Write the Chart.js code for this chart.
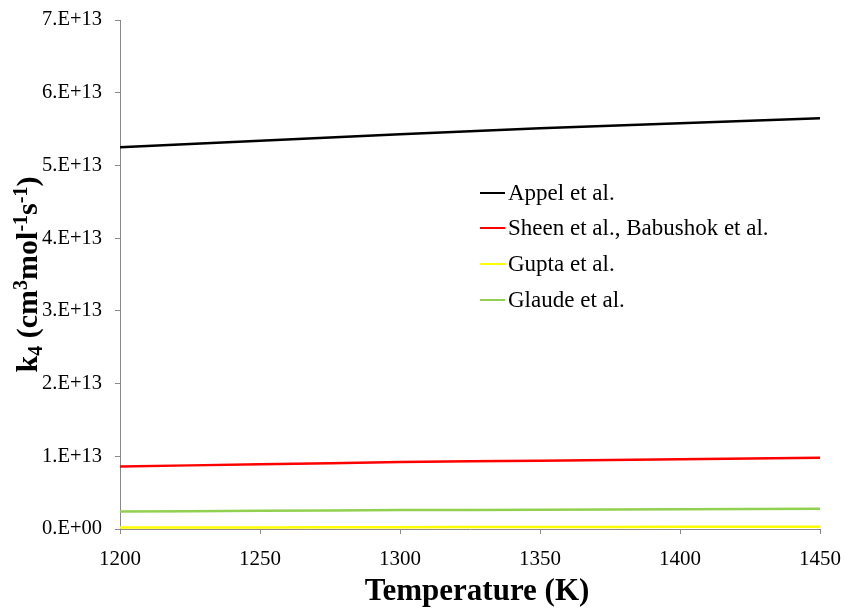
<!DOCTYPE html>
<html lang="en">
<head>
    <meta charset="UTF-8">
    <title>k4 vs Temperature</title>
    <style>
        body {
            margin: 0;
            padding: 0;
            background: #ffffff;
            font-family: 'Liberation Serif', 'Times New Roman', serif;
        }
        #wrap {
            position: relative;
            width: 845px;
            height: 610px;
        }
        #legend {
            position: absolute;
            left: 480px;
            top: 175px;
            font-size: 23px;
            color: #000;
        }
        .item {
            height: 35.6px;
            display: flex;
            align-items: center;
            white-space: nowrap;
        }
        .swatch {
            display: inline-block;
            width: 25px;
            height: 2px;
            margin-right: 3px;
        }
    </style>
</head>
<body>
<div id="wrap">
    <canvas id="chart" width="845" height="610"></canvas>
    <div id="legend"></div>
</div>

<script src="https://cdn.jsdelivr.net/npm/chart.js"></script>
<script>
    // data (cm3 mol-1 s-1)
    const temps = [1200, 1250, 1300, 1350, 1400, 1450];
    const appel = [5.25e13, 5.34e13, 5.43e13, 5.51e13, 5.58e13, 5.65e13];
    const sheen = [0.86e13, 0.89e13, 0.92e13, 0.94e13, 0.96e13, 0.98e13];
    const gupta = [0.02e13, 0.022e13, 0.025e13, 0.027e13, 0.03e13, 0.032e13];
    const glaude = [0.24e13, 0.25e13, 0.26e13, 0.265e13, 0.27e13, 0.28e13];

    const names = ['Appel et al.', 'Sheen et al., Babushok et al.', 'Gupta et al.', 'Glaude et al.'];
    const colors = ['#000000', '#ff0000', '#ffff00', '#92d050'];
    const series = [appel, sheen, gupta, glaude];

    const xTitle = 'Temperature (K)';
    // y title pieces: k4 (cm3 mol-1 s-1) with sub/superscripts
    const yTitleParts = [
        ['k', 'n'], ['4', 'sub'], [' (cm', 'n'], ['3', 'sup'], ['mol', 'n'],
        ['-1', 'sup'], ['s', 'n'], ['-1', 'sup'], [')', 'n']
    ];

    const datasets = series.map((s, i) => ({
        label: names[i],
        data: s.map((v, j) => ({ x: temps[j], y: v })),
        borderColor: colors[i],
        backgroundColor: colors[i],
        borderWidth: 2.5,
        pointRadius: 0,
        tension: 0.3,
        fill: false
    }));

    // axis titles drawn by hand so the sub/superscripts look right
    const axisTitles = {
        id: 'axisTitles',
        afterDraw(chart) {
            const c = chart.ctx;
            const area = chart.chartArea;
            c.save();
            c.fillStyle = '#000';
            c.textBaseline = 'alphabetic';

            c.font = 'bold 31px "Liberation Serif"';
            c.textAlign = 'center';
            c.fillText(xTitle, (area.left + area.right) / 2 + 7, 600);

            const big = 'bold 30px "Liberation Serif"';
            const small = 'bold 20px "Liberation Serif"';
            c.textAlign = 'left';
            let total = 0;
            yTitleParts.forEach(p => {
                c.font = p[1] === 'n' ? big : small;
                total += c.measureText(p[0]).width;
            });
            c.translate(37, (area.top + area.bottom) / 2);
            c.rotate(-Math.PI / 2);
            let x = -total / 2;
            yTitleParts.forEach(p => {
                c.font = p[1] === 'n' ? big : small;
                const dy = p[1] === 'sub' ? 4.5 : (p[1] === 'sup' ? -10 : 0);
                c.fillText(p[0], x, dy);
                x += c.measureText(p[0]).width;
            });
            c.restore();
        }
    };

    const ctx = document.getElementById('chart').getContext('2d');
    const chart = new Chart(ctx, {
        type: 'line',
        data: { datasets: datasets },
        options: {
            responsive: false,
            animation: false,
            layout: { padding: { top: 20, right: 25, left: 0, bottom: 0 } },
            plugins: {
                legend: { display: false },
                tooltip: { enabled: false }
            },
            scales: {
                x: {
                    type: 'linear',
                    min: 1200,
                    max: 1450,
                    ticks: {
                        stepSize: 50,
                        color: '#000',
                        padding: 13,
                        font: { family: 'Liberation Serif', size: 21 },
                        callback: v => String(v)
                    },
                    grid: { drawOnChartArea: false, color: '#888', tickLength: 5 },
                    border: { color: '#888', width: 1 },
                    afterFit: s => {
                        s.height = 81;
                        s.paddingLeft = 0;
                        s.paddingRight = 0;
                    }
                },
                y: {
                    min: 0,
                    max: 7e13,
                    ticks: {
                        stepSize: 1e13,
                        color: '#000',
                        padding: 13,
                        font: { family: 'Liberation Serif', size: 20.5 },
                        callback: v => v === 0 ? '0.E+00' : Math.round(v / 1e13) + '.E+13'
                    },
                    grid: { drawOnChartArea: false, color: '#888', tickLength: 5 },
                    border: { color: '#888', width: 1 },
                    afterFit: s => {
                        s.width = 120;
                        s.paddingTop = 0;
                        s.paddingBottom = 0;
                    }
                }
            }
        },
        plugins: [axisTitles]
    });

    // legend inside the plot
    const legend = document.getElementById('legend');
    chart.data.datasets.forEach(ds => {
        const row = document.createElement('div');
        row.className = 'item';
        const sw = document.createElement('span');
        sw.className = 'swatch';
        sw.style.background = ds.borderColor;
        row.appendChild(sw);
        row.appendChild(document.createTextNode(ds.label));
        legend.appendChild(row);
    });
</script>
</body>
</html>
